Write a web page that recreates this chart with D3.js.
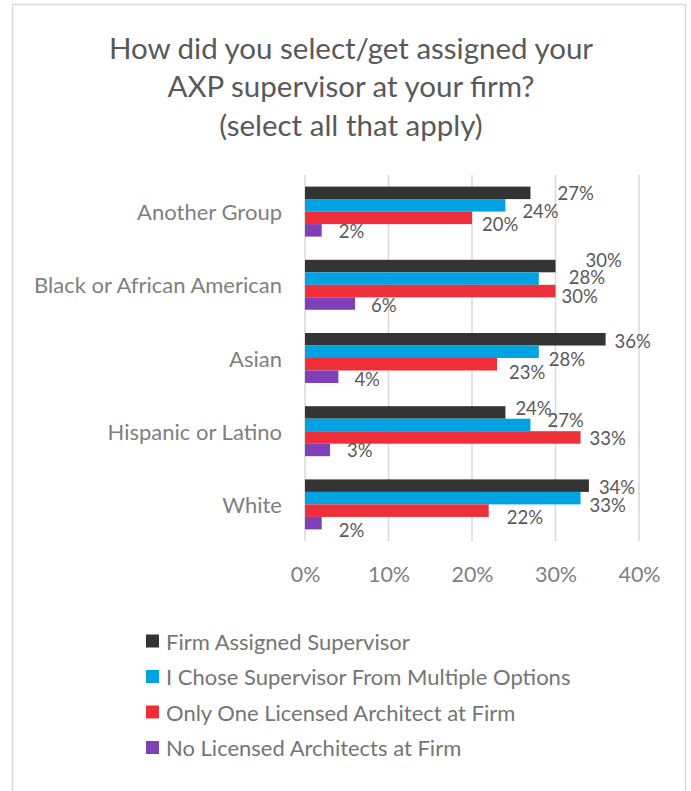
<!DOCTYPE html>
<html>
<head>
<meta charset="utf-8">
<script src="https://cdn.jsdelivr.net/npm/d3@7"></script>
<style>
  html, body { margin: 0; padding: 0; background: #fff; }
  svg { display: block; }
  text { font-family: Lato, "Open Sans", sans-serif; }
</style>
</head>
<body>
<svg id="chart" width="691" height="791"></svg>
<script>
// Survey responses by group (percent of respondents)
const categories = ["Another Group", "Black or African American", "Asian", "Hispanic or Latino", "White"];
const seriesNames = [
  "Firm Assigned Supervisor",
  "I Chose Supervisor From Multiple Options",
  "Only One Licensed Architect at Firm",
  "No Licensed Architects at Firm"
];
const firmAssigned    = [27, 30, 36, 24, 34];
const choseFromMany   = [24, 28, 28, 27, 33];
const onlyOneLicensed = [20, 30, 23, 33, 22];
const noLicensed      = [2, 6, 4, 3, 2];
const tickValues = [0, 10, 20, 30, 40];
const titleLines = [
  "How did you select/get assigned your",
  "AXP supervisor at your firm?",
  "(select all that apply)"
];

const seriesValues = [firmAssigned, choseFromMany, onlyOneLicensed, noLicensed];
const colors = ["#333333", "#00A3E1", "#EE2E38", "#7D40B7"];

// Hand-placed data label offsets [dx from bar end, dy from bar centre], per category then series
const labelNudge = [
  [[27, 0], [17, 6], [10, 6], [17, 1]],
  [[30, -6], [30, -2], [6, 5], [16, 1]],
  [[9, 2], [10, 7], [12, 8], [16, 2]],
  [[10, -4], [17, -5], [9, 1], [17, 0]],
  [[10, 1], [9, 7], [18, 6], [17, 7]]
];

const svg = d3.select("#chart");

// chart frame
svg.append("rect")
  .attr("x", 12.5).attr("y", 4.5)
  .attr("width", 673).attr("height", 800)
  .attr("fill", "#fff")
  .attr("stroke", "#d9d9d9")
  .attr("stroke-width", 1.5);

// title
svg.append("g").selectAll("text")
  .data(titleLines)
  .join("text")
  .attr("x", 351)
  .attr("y", (d, i) => 47 + i * 38.5)
  .attr("text-anchor", "middle")
  .attr("dominant-baseline", "central")
  .attr("fill", "#595959")
  .attr("font-size", 29.5)
  .text(d => d);

const plot = { left: 305, right: 639, top: 175, bottom: 541 };

const x = d3.scaleLinear().domain([0, 40]).range([plot.left, plot.right]);
const y = d3.scaleBand().domain(categories)
  .range([plot.top, plot.bottom])
  .paddingInner(0.317).paddingOuter(0.1585);
const ySub = d3.scaleBand().domain(d3.range(seriesNames.length))
  .range([0, y.bandwidth()]);

// vertical gridlines
svg.append("g").selectAll("line")
  .data(tickValues)
  .join("line")
  .attr("x1", d => x(d)).attr("x2", d => x(d))
  .attr("y1", plot.top).attr("y2", plot.bottom)
  .attr("stroke", "#d9d9d9")
  .attr("stroke-width", 1.5);

// x axis tick labels
const xAxis = d3.axisBottom(x).tickValues(tickValues).tickSize(0).tickPadding(0)
  .tickFormat(d => d + "%");
const xg = svg.append("g").attr("transform", `translate(0, ${plot.bottom + 33})`).call(xAxis);
xg.select(".domain").remove();
xg.selectAll("text")
  .attr("dy", null)
  .attr("dominant-baseline", "central")
  .attr("font-family", "Lato, 'Open Sans', sans-serif")
  .attr("font-size", 21.5)
  .attr("fill", "#7f7f7f");

// category labels
const yAxis = d3.axisLeft(y).tickSize(0).tickPadding(0);
const yg = svg.append("g").attr("transform", `translate(${plot.left - 23}, 0)`).call(yAxis);
yg.select(".domain").remove();
yg.selectAll("text")
  .attr("dy", null)
  .attr("dominant-baseline", "central")
  .attr("font-family", "Lato, 'Open Sans', sans-serif")
  .attr("font-size", 22)
  .attr("fill", "#7f7f7f");

// bars and labels
const rows = [];
categories.forEach((c, ci) => {
  seriesValues.forEach((vals, si) => {
    rows.push({ c, ci, si, v: vals[ci] });
  });
});

svg.append("g").selectAll("rect")
  .data(rows)
  .join("rect")
  .attr("x", x(0))
  .attr("y", d => y(d.c) + ySub(d.si))
  .attr("width", d => x(d.v) - x(0))
  .attr("height", ySub.bandwidth())
  .attr("fill", d => colors[d.si]);

svg.append("g").selectAll("text")
  .data(rows)
  .join("text")
  .attr("x", d => x(d.v) + labelNudge[d.ci][d.si][0])
  .attr("y", d => y(d.c) + ySub(d.si) + ySub.bandwidth() / 2 + labelNudge[d.ci][d.si][1])
  .attr("dominant-baseline", "central")
  .attr("font-size", 18.5)
  .attr("fill", "#595959")
  .text(d => d.v + "%");

// legend
const legend = svg.append("g").selectAll("g")
  .data(seriesNames)
  .join("g")
  .attr("transform", (d, i) => `translate(146, ${641 + i * 35.5})`);
legend.append("rect")
  .attr("x", 0).attr("y", -6.5)
  .attr("width", 13).attr("height", 13)
  .attr("fill", (d, i) => colors[i]);
legend.append("text")
  .attr("x", 20)
  .attr("dominant-baseline", "central")
  .attr("font-size", 22)
  .attr("fill", "#757575")
  .text(d => d);
</script>
</body>
</html>
